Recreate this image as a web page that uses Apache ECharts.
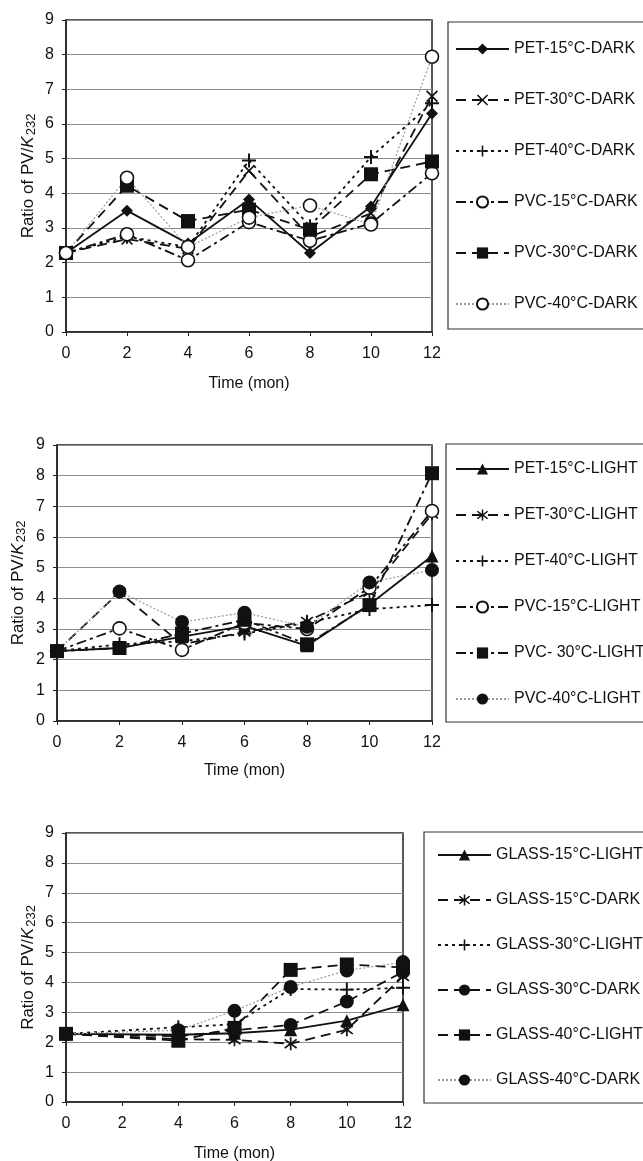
<!DOCTYPE html>
<html>
<head>
<meta charset="utf-8">
<script src="https://cdn.jsdelivr.net/npm/echarts@6/dist/echarts.min.js"></script>
<style>
html,body{margin:0;padding:0;background:#fff;}
#c{width:643px;height:1161px;}
</style>
</head>
<body>
<div id="c"></div>
<script>
// ---------- data ----------
var months = [0, 2, 4, 6, 8, 10, 12];
var xTicks = ['0', '2', '4', '6', '8', '10', '12'];
var yTicks = ['0', '1', '2', '3', '4', '5', '6', '7', '8', '9'];

// Chart 1 (DARK)
var names1 = ['PET-15°C-DARK', 'PET-30°C-DARK', 'PET-40°C-DARK', 'PVC-15°C-DARK', 'PVC-30°C-DARK', 'PVC-40°C-DARK'];
var pet15Dark = [2.28, 3.50, 2.55, 3.82, 2.28, 3.62, 6.30];
var pet30Dark = [2.28, 2.68, 2.40, 4.65, 2.75, 3.42, 6.80];
var pet40Dark = [2.28, 2.75, 2.45, 4.95, 3.05, 5.05, 6.60];
var pvc15Dark = [2.28, 2.82, 2.07, 3.17, 2.63, 3.13, 4.58];
var pvc30Dark = [2.28, 4.22, 3.20, 3.53, 2.95, 4.55, 4.92];
var pvc40Dark = [2.28, 4.45, 2.45, 3.30, 3.65, 3.10, 7.94];

// Chart 2 (LIGHT)
var names2 = ['PET-15°C-LIGHT', 'PET-30°C-LIGHT', 'PET-40°C-LIGHT', 'PVC-15°C-LIGHT', 'PVC- 30°C-LIGHT', 'PVC-40°C-LIGHT'];
var pet15Light = [2.28, 2.38, 2.75, 3.10, 2.45, 3.80, 5.38];
var pet30Light = [2.28, 4.20, 2.50, 2.90, 3.25, 4.20, 6.75];
var pet40Light = [2.28, 2.50, 2.60, 2.85, 3.20, 3.65, 3.78];
var pvc15Light = [2.28, 3.02, 2.32, 3.20, 3.00, 4.35, 6.85];
var pvc30Light = [2.28, 2.38, 2.85, 3.30, 2.50, 3.78, 8.08];
var pvc40Light = [2.28, 4.22, 3.23, 3.53, 3.07, 4.52, 4.92];

// Chart 3 (GLASS) - no measurement at month 2
var names3 = ['GLASS-15°C-LIGHT', 'GLASS-15°C-DARK', 'GLASS-30°C-LIGHT', 'GLASS-30°C-DARK', 'GLASS-40°C-LIGHT', 'GLASS-40°C-DARK'];
var glass15Light = [2.28, null, 2.25, 2.30, 2.42, 2.72, 3.25];
var glass15Dark  = [2.28, null, 2.10, 2.08, 1.95, 2.42, 4.20];
var glass30Light = [2.28, null, 2.50, 2.60, 3.78, 3.76, 3.82];
var glass30Dark  = [2.28, null, 2.20, 2.40, 2.58, 3.36, 4.35];
var glass40Light = [2.28, null, 2.05, 2.48, 4.42, 4.60, 4.50];
var glass40Dark  = [2.28, null, 2.40, 3.05, 3.85, 4.40, 4.68];

// ---------- styles ----------
var SYM_X = 'path://M0,1 L1,0 L5,4 L9,0 L10,1 L6,5 L10,9 L9,10 L5,6 L1,10 L0,9 L4,5 Z';
var SYM_PLUS = 'path://M4.3,0 H5.7 V4.3 H10 V5.7 H5.7 V10 H4.3 V5.7 H0 V4.3 H4.3 Z';
var SYM_AST = 'path://M4.4,0 H5.6 V3.8 L8.7,1.2 L9.5,2.1 L6.2,5 L9.5,7.9 L8.7,8.8 L5.6,6.2 V10 H4.4 V6.2 L1.3,8.8 L0.5,7.9 L3.8,5 L0.5,2.1 L1.3,1.2 L4.4,3.8 Z';

var STY = {
  solid:   {type: 'solid', color: '#111', width: 1.8},
  dash:    {type: [10, 6], color: '#111', width: 1.8},
  dot:     {type: [3, 4], color: '#111', width: 1.8},
  dashdot: {type: [10, 4, 3, 4], color: '#111', width: 1.8},
  grayDot: {type: [2, 2], color: '#9a9a9a', width: 1.2}
};
var MK = {
  diamond: {symbol: 'diamond', size: 12, fill: '#111', border: '#111'},
  x:       {symbol: SYM_X, size: 12, fill: '#111', border: '#111'},
  plus:    {symbol: SYM_PLUS, size: 14, fill: '#111', border: '#111'},
  ocircle: {symbol: 'circle', size: 13, fill: '#fff', border: '#111'},
  square:  {symbol: 'rect', size: 14, fill: '#111', border: '#111'},
  triangle:{symbol: 'triangle', size: 13, fill: '#111', border: '#111'},
  ast:     {symbol: SYM_AST, size: 13, fill: '#111', border: '#111'},
  circle:  {symbol: 'circle', size: 14, fill: '#111', border: '#111'}
};

function mkSeries(name, vals, gi, line, mk) {
  var data = [];
  for (var i = 0; i < months.length; i++) {
    if (vals[i] !== null) data.push([months[i], vals[i]]);
  }
  var m = MK[mk];
  return {
    name: name, type: 'line', xAxisIndex: gi, yAxisIndex: gi,
    data: data, symbol: m.symbol, symbolSize: m.size, showAllSymbol: true,
    lineStyle: STY[line],
    itemStyle: {color: m.fill, borderColor: m.border, borderWidth: mk === 'ocircle' ? 1.6 : 0, opacity: 1},
    emphasis: {disabled: true}, animation: false, z: 3
  };
}

var grids = [
  {left: 66, top: 20, width: 366, height: 312},
  {left: 57, top: 445, width: 375, height: 276},
  {left: 66, top: 833, width: 337, height: 269}
];

var font = 'Liberation Sans, Arial, sans-serif';

function xAx(gi, gap) {
  return {
    type: 'value', gridIndex: gi, min: 0, max: 12, interval: 2,
    name: 'Time (mon)', nameLocation: 'middle', nameGap: gap, nameMoveOverlap: false,
    nameTextStyle: {fontFamily: font, fontSize: 16, color: '#111'},
    axisLine: {show: true, lineStyle: {color: '#222', width: 1.5}},
    axisTick: {show: true, length: 4, lineStyle: {color: '#222'}},
    axisLabel: {fontFamily: font, fontSize: 16, color: '#111', margin: 14,
      formatter: function (v) { return xTicks[months.indexOf(v)]; }},
    splitLine: {show: false}
  };
}
function yAx(gi, gap) {
  return {
    type: 'value', gridIndex: gi, min: 0, max: 9, interval: 1,
    name: 'Ratio of PV/{k|K}{s|232}', nameLocation: 'middle', nameGap: gap, nameRotate: 90,
    nameMoveOverlap: false,
    nameTextStyle: {fontFamily: font, fontSize: 17, color: '#111',
      rich: {
        k: {fontFamily: font, fontSize: 17, fontStyle: 'italic', color: '#111'},
        s: {fontFamily: font, fontSize: 13, color: '#111', verticalAlign: 'bottom', padding: [7, 0, 0, 1]}
      }},
    axisLine: {show: true, lineStyle: {color: '#222', width: 1.5}},
    axisTick: {show: true, length: 4, lineStyle: {color: '#222'}},
    axisLabel: {fontFamily: font, fontSize: 16, color: '#111', margin: 12,
      formatter: function (v) { return yTicks[v]; }},
    splitLine: {show: true, lineStyle: {color: '#8c8c8c', width: 1}}
  };
}

var series = [
  mkSeries(names1[0], pet15Dark, 0, 'solid', 'diamond'),
  mkSeries(names1[1], pet30Dark, 0, 'dash', 'x'),
  mkSeries(names1[2], pet40Dark, 0, 'dot', 'plus'),
  mkSeries(names1[3], pvc15Dark, 0, 'dashdot', 'ocircle'),
  mkSeries(names1[4], pvc30Dark, 0, 'dash', 'square'),
  mkSeries(names1[5], pvc40Dark, 0, 'grayDot', 'ocircle'),

  mkSeries(names2[0], pet15Light, 1, 'solid', 'triangle'),
  mkSeries(names2[1], pet30Light, 1, 'dash', 'ast'),
  mkSeries(names2[2], pet40Light, 1, 'dot', 'plus'),
  mkSeries(names2[3], pvc15Light, 1, 'dashdot', 'ocircle'),
  mkSeries(names2[4], pvc30Light, 1, 'dashdot', 'square'),
  mkSeries(names2[5], pvc40Light, 1, 'grayDot', 'circle'),

  mkSeries(names3[0], glass15Light, 2, 'solid', 'triangle'),
  mkSeries(names3[1], glass15Dark, 2, 'dash', 'ast'),
  mkSeries(names3[2], glass30Light, 2, 'dot', 'plus'),
  mkSeries(names3[3], glass30Dark, 2, 'dash', 'circle'),
  mkSeries(names3[4], glass40Light, 2, 'dash', 'square'),
  mkSeries(names3[5], glass40Dark, 2, 'grayDot', 'circle')
];

function legend(names, left, top, gap) {
  return {
    data: names, orient: 'vertical', left: left, top: top,
    itemWidth: 53, itemHeight: 14, itemGap: gap, selectedMode: false,
    textStyle: {fontFamily: font, fontSize: 16, color: '#111', lineHeight: 14},
    padding: 0
  };
}

var chart = echarts.init(document.getElementById('c'), null, {renderer: 'canvas'});
chart.setOption({
  backgroundColor: '#fff',
  animation: false,
  grid: grids.map(function (g) {
    return {left: g.left, top: g.top, width: g.width, height: g.height,
      outerBoundsMode: 'none', containLabel: false,
      show: true, borderColor: '#222', borderWidth: 1.5, backgroundColor: 'transparent'};
  }),
  xAxis: [xAx(0, 44), xAx(1, 42), xAx(2, 44)],
  yAxis: [yAx(0, 28), yAx(1, 29), yAx(2, 28)],
  legend: [
    legend(names1, 455, 41, 35),
    legend(names2, 455, 461, 30),
    legend(names3, 437, 847, 29)
  ],
  graphic: [
    {type: 'rect', shape: {x: 448, y: 22, width: 300, height: 307}, style: {fill: 'none', stroke: '#333', lineWidth: 1.2}, silent: true},
    {type: 'rect', shape: {x: 446, y: 444, width: 300, height: 278}, style: {fill: 'none', stroke: '#333', lineWidth: 1.2}, silent: true},
    {type: 'rect', shape: {x: 424, y: 832, width: 300, height: 271}, style: {fill: 'none', stroke: '#333', lineWidth: 1.2}, silent: true}
  ],
  series: series
});
</script>
</body>
</html>
